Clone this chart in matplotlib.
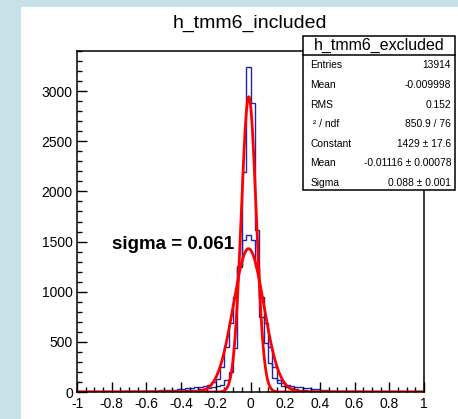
import numpy as np
import matplotlib.pyplot as plt
from matplotlib.patches import Rectangle
from matplotlib.ticker import MultipleLocator

plt.rcParams['font.family'] = ['Liberation Sans', 'DejaVu Sans']

# 80 bins of width 0.025 from -1 to 1
bin_edges = np.linspace(-1.0, 1.0, 81)

# h_tmm6_included (narrow)
included = [
    1, 0, 1, 1, 1, 2, 1, 2, 2, 2,
    3, 2, 3, 3, 4, 4, 5, 5, 6, 7,
    8, 9, 10, 12, 14, 16, 19, 23, 28, 33,
    38, 45, 55, 70, 120, 202, 438, 1250, 2196, 3243,
    2884, 1620, 750, 485, 286, 136, 86, 60, 45, 35,
    28, 22, 18, 14, 11, 9, 8, 6, 5, 4,
    4, 3, 3, 3, 2, 2, 2, 2, 1, 1,
    1, 1, 1, 1, 0, 1, 0, 0, 0, 0,
]

# h_tmm6_excluded (wide)
excluded = [
    1, 1, 2, 2, 2, 3, 3, 3, 4, 4,
    4, 5, 5, 6, 7, 8, 8, 11, 13, 15,
    17, 20, 24, 28, 33, 37, 42, 47, 52, 60,
    70, 95, 130, 252, 452, 685, 950, 1256, 1515, 1565,
    1515, 1250, 950, 685, 452, 252, 120, 85, 70, 58,
    50, 45, 40, 36, 32, 28, 22, 18, 14, 11,
    9, 8, 7, 6, 5, 5, 4, 4, 3, 3,
    3, 2, 2, 2, 2, 1, 1, 1, 1, 1,
]

# gaussian fit parameters (constant, mean, sigma)
fit_included = (2944, -0.01, 0.043)
fit_excluded = (1429, -0.01116, 0.088)

stats_names = ["Entries", "Mean", "RMS", " \u00b2 / ndf", "Constant", "Mean", "Sigma"]
stats_values = ["13914", "-0.009998", "0.152", "850.9 / 76",
                "1429 \u00b1 17.6", "-0.01116 \u00b1 0.00078", "0.088 \u00b1 0.001"]

W, H = 458, 419
fig = plt.figure(figsize=(W / 100, H / 100), dpi=100)
fig.patch.set_facecolor('#c6e2e8')
fig.add_artist(Rectangle((21 / W, 0), 1 - 21 / W, 1 - 7 / H, transform=fig.transFigure,
                         facecolor='white', edgecolor='none', zorder=0))

ax = fig.add_axes([77 / W, 1 - 392 / H, (424 - 77) / W, (392 - 51) / H])
ax.set_facecolor('white')

blue = '#2323a8'
ax.stairs(included, bin_edges, color=blue, lw=1.0)
ax.stairs(excluded, bin_edges, color=blue, lw=1.0)

x = np.linspace(-1, 1, 2000)
for c, m, s in (fit_included, fit_excluded):
    ax.plot(x, c * np.exp(-0.5 * ((x - m) / s) ** 2), color='#ff0000', lw=2.0,
            solid_capstyle='butt')

ax.set_xlim(-1, 1)
ax.set_ylim(0, 3400)
xt = np.round(np.arange(-1, 1.01, 0.2), 1)
ax.set_xticks(xt)
ax.set_xticklabels(['0' if v == 0 else ('%g' % v) for v in xt])
ax.xaxis.set_minor_locator(MultipleLocator(0.05))
ax.yaxis.set_major_locator(MultipleLocator(500))
ax.yaxis.set_minor_locator(MultipleLocator(100))
ax.tick_params(which='both', direction='in', top=False, right=False, labelsize=10)
ax.tick_params(which='major', length=7, width=1.0)
ax.tick_params(which='minor', length=3.6, width=1.0)
ax.tick_params(axis='y', pad=3)
ax.tick_params(axis='x', pad=3.6)
for sp in ax.spines.values():
    sp.set_linewidth(1.1)

ax.text(-0.8, 1475, "sigma = 0.061", fontsize=13.5, fontweight='bold', va='center', ha='left')

fig.text(250 / W, 1 - 23 / H, "h_tmm6_included", fontsize=14, ha='center', va='center')

# stats box
bx0, bx1, by0, by1 = 303, 455, 36, 190
fig.add_artist(Rectangle((bx0 / W, 1 - by1 / H), (bx1 - bx0) / W, (by1 - by0) / H,
                         transform=fig.transFigure, facecolor='white', edgecolor='black',
                         lw=1.1, zorder=5))
fig.add_artist(plt.Line2D([bx0 / W, bx1 / W], [1 - 55 / H, 1 - 55 / H],
                          transform=fig.transFigure, color='black', lw=1.1, zorder=6))
fig.text((bx0 + bx1) / 2 / W, 1 - 45.5 / H, "h_tmm6_excluded", fontsize=11.5,
         ha='center', va='center', zorder=7)
row_y = [65, 85, 104.5, 124, 144, 163.5, 182.5]
for name, val, ry in zip(stats_names, stats_values, row_y):
    fig.text(310.5 / W, 1 - ry / H, name, fontsize=7.4, ha='left', va='center', zorder=7)
    fig.text(451 / W, 1 - ry / H, val, fontsize=7.4, ha='right', va='center', zorder=7)

fig.savefig("out.png", dpi=100)
